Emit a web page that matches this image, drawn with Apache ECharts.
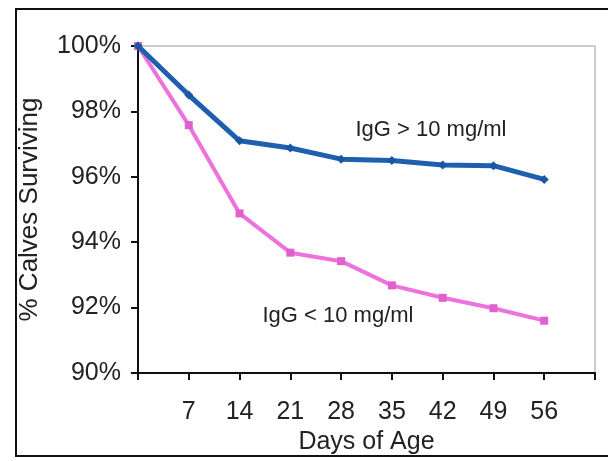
<!DOCTYPE html>
<html>
<head>
<meta charset="utf-8">
<script src="https://cdn.jsdelivr.net/npm/echarts@6/dist/echarts.min.js"></script>
<style>
  html, body { margin: 0; padding: 0; background: #fff; }
  #box { width: 608px; height: 461px; }
</style>
</head>
<body>
<div id="box"></div>
<script>
// days of age (x) and % surviving for each group
let days = [0, 7, 14, 21, 28, 35, 42, 49, 56];
let highIgG = [100, 98.5, 97.1, 96.88, 96.54, 96.5, 96.36, 96.34, 95.92];
let lowIgG = [100, 97.58, 94.88, 93.68, 93.42, 92.68, 92.3, 91.98, 91.6];
let yTicks = [90, 92, 94, 96, 98, 100];
let xTickLabels = [7, 14, 21, 28, 35, 42, 49, 56];

let font = "Liberation Sans";

function pairs(vals) {
  return days.map((d, i) => [d, vals[i]]);
}

let chart = echarts.init(document.getElementById("box"), null, { renderer: "canvas" });

let option = {
  backgroundColor: "#fff",
  animation: false,
  grid: {
    left: 138,
    right: 13,
    top: 46,
    bottom: 88,
    show: true,
    borderColor: "#999",
    borderWidth: 1
  },
  xAxis: {
    type: "value",
    min: 0,
    max: 63,
    interval: 7,
    name: "Days of Age",
    nameLocation: "middle",
    nameGap: 57,
    nameTextStyle: { fontFamily: font, fontSize: 25, color: "#222" },
    axisLine: { lineStyle: { color: "#111", width: 2 } },
    axisTick: { show: true, inside: false, length: 7, lineStyle: { color: "#111", width: 2 } },
    axisLabel: {
      margin: 27,
      fontFamily: font,
      fontSize: 25,
      color: "#222",
      formatter: v => (xTickLabels.indexOf(v) >= 0 ? String(v) : "")
    },
    splitLine: { show: false }
  },
  yAxis: {
    type: "value",
    min: yTicks[0],
    max: yTicks[yTicks.length - 1],
    interval: 2,
    name: "% Calves Surviving",
    nameLocation: "middle",
    nameGap: 95,
    nameTextStyle: { fontFamily: font, fontSize: 26, color: "#222" },
    axisLine: { show: true, lineStyle: { color: "#111", width: 2 } },
    axisTick: { show: true, inside: false, length: 7, lineStyle: { color: "#111", width: 2 } },
    axisLabel: {
      margin: 17,
      fontFamily: font,
      fontSize: 25,
      color: "#222",
      formatter: "{value}%"
    },
    splitLine: { show: false }
  },
  series: [
    {
      name: "IgG < 10 mg/ml",
      type: "line",
      data: pairs(lowIgG),
      symbol: "rect",
      symbolSize: 8,
      lineStyle: { color: "#ee72dc", width: 4 },
      itemStyle: { color: "#e060cc" },
      z: 2
    },
    {
      name: "IgG > 10 mg/ml",
      type: "line",
      data: pairs(highIgG),
      symbol: "diamond",
      symbolSize: 9,
      lineStyle: { color: "#1f5fb0", width: 5 },
      itemStyle: { color: "#1a56a4" },
      z: 3
    }
  ],
  graphic: [
    {
      type: "rect",
      shape: { x: 16, y: 9, width: 620, height: 447 },
      style: { fill: "none", stroke: "#111", lineWidth: 2 },
      z: -1
    },
    {
      type: "text",
      x: 431,
      y: 130,
      style: {
        text: "IgG > 10 mg/ml",
        fontFamily: font,
        fontSize: 22,
        fill: "#222",
        align: "center",
        verticalAlign: "middle"
      }
    },
    {
      type: "text",
      x: 338,
      y: 316,
      style: {
        text: "IgG < 10 mg/ml",
        fontFamily: font,
        fontSize: 22,
        fill: "#222",
        align: "center",
        verticalAlign: "middle"
      }
    }
  ]
};

chart.setOption(option);
</script>
</body>
</html>
